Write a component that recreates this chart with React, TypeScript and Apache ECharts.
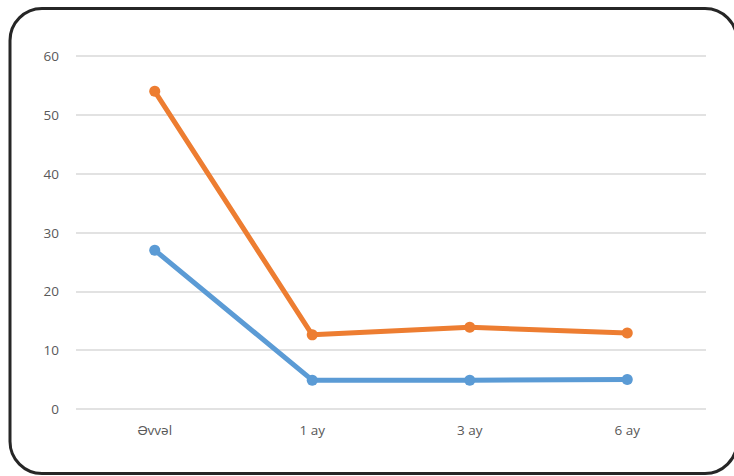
import React, { useEffect, useRef } from "react";
import * as echarts from "echarts";

const categories = ["Əvvəl", "1 ay", "3 ay", "6 ay"];
const seriesOrange = [54, 12.6, 13.9, 12.9];
const seriesBlue = [27, 4.9, 4.9, 5.0];
const yTicks = { min: 0, max: 60, interval: 10 };

export default function App() {
  const ref = useRef<HTMLDivElement>(null);

  useEffect(() => {
    if (!ref.current) return;
    const chart = echarts.init(ref.current, null, { renderer: "svg" });
    const labelStyle = { color: "#595959", fontSize: 13.5, fontFamily: "'Open Sans', sans-serif" };
    chart.setOption({
      animation: false,
      backgroundColor: "#ffffff",
      grid: { left: 76, right: 28, top: 56, bottom: 67 },
      xAxis: {
        type: "category",
        data: categories,
        boundaryGap: true,
        axisLine: { show: false },
        axisTick: { show: false },
        axisLabel: { ...labelStyle, margin: 14 },
      },
      yAxis: {
        type: "value",
        min: yTicks.min,
        max: yTicks.max,
        interval: yTicks.interval,
        axisLine: { show: false },
        axisTick: { show: false },
        axisLabel: { ...labelStyle, margin: 17 },
        splitLine: { lineStyle: { color: "#d9d9d9", width: 1.5 } },
      },
      series: [
        {
          type: "line",
          data: seriesBlue,
          symbol: "circle",
          symbolSize: 11,
          lineStyle: { color: "#5b9bd5", width: 5 },
          itemStyle: { color: "#5b9bd5" },
        },
        {
          type: "line",
          data: seriesOrange,
          symbol: "circle",
          symbolSize: 11,
          lineStyle: { color: "#ed7d31", width: 5 },
          itemStyle: { color: "#ed7d31" },
        },
      ],
      graphic: [
        {
          type: "rect",
          shape: { x: 10, y: 8.5, width: 727, height: 465, r: 32 },
          style: { fill: "none", stroke: "#262626", lineWidth: 3 },
          silent: true,
        },
      ],
    });
    return () => chart.dispose();
  }, []);

  return (
    <div
      ref={ref}
      style={{ position: "fixed", left: 0, top: 0, width: 734, height: 476 }}
    />
  );
}
